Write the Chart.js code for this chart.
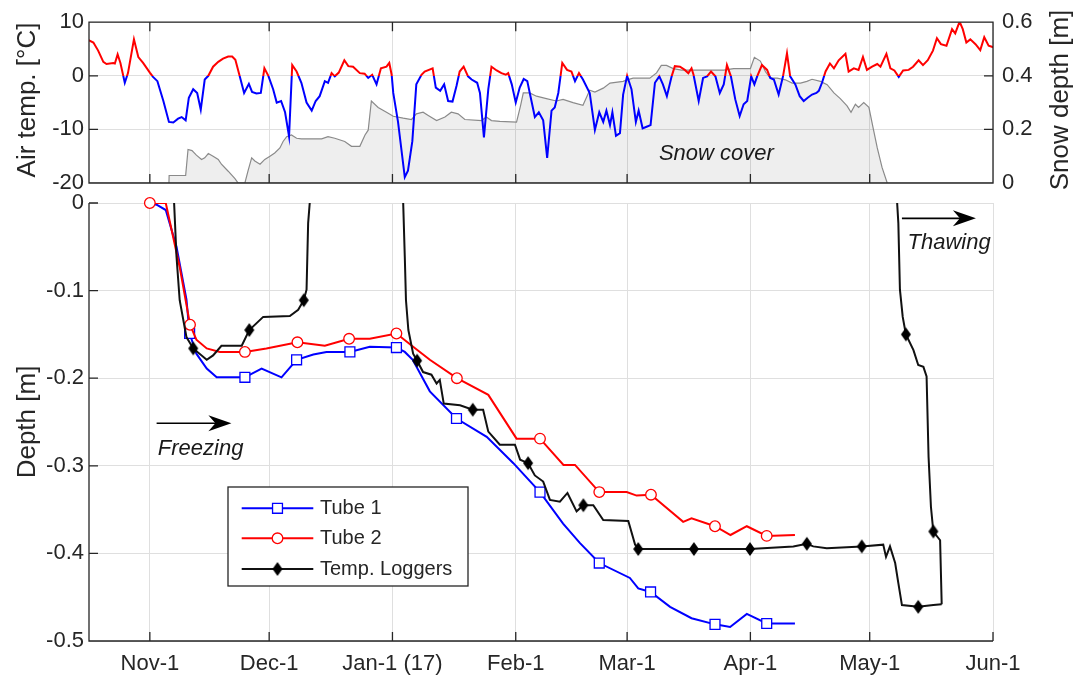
<!DOCTYPE html>
<html>
<head>
<meta charset="utf-8">
<title>Freezing and thawing of the ground, winter 2016/17</title>
<script src="https://cdn.jsdelivr.net/npm/chart.js@4.4.1/dist/chart.umd.min.js"></script>
<style>
  html, body { margin: 0; padding: 0; background: #fff; }
  #wrap { position: relative; width: 1083px; height: 681px; overflow: hidden; }
  #wrap canvas { position: absolute; left: 0; top: 0; }
</style>
</head>
<body>
<div id="wrap">
  <canvas id="depthPanel" width="1083" height="681"></canvas>
  <canvas id="weatherPanel" width="1083" height="681"></canvas>
</div>
<script>
// ---------- time axis (days counted from 1 Nov 2016) ----------
const monthTickDays   = [0, 30, 61, 92, 120, 151, 181, 212];
const monthTickLabels = ['Nov-1', 'Dec-1', 'Jan-1 (17)', 'Feb-1', 'Mar-1', 'Apr-1', 'May-1', 'Jun-1'];
const dayMin = -15.3;
const dayMax = 212;

const tempTicks  = [-20, -10, 0, 10];
const snowTicks  = [0, 0.2, 0.4, 0.6];
const depthTicks = [-0.5, -0.4, -0.3, -0.2, -0.1, 0];

// ---------- air temperature [°C] ----------
const airTempDays = [
  -15.5, -14.2, -13.0, -11.7, -10.9, -9.2, -8.8, -8.1, -7.4, -6.3, -5.5, -4.0, -2.9, -1.7, 0.0, 0.8, 1.9,
  3.4, 4.8, 5.9, 7.1, 8.0, 9.0, 9.8, 10.9, 11.9, 12.8, 13.8, 14.7, 15.9, 17.2, 18.4, 19.7, 20.7, 21.5,
  22.6, 23.7, 24.9, 25.7, 26.8, 27.9, 28.8, 29.8, 31.0, 31.9, 33.0, 34.0, 35.0, 35.8, 36.9, 38.1, 39.4,
  40.7, 41.7, 42.7, 44.0, 44.8, 45.7, 46.5, 47.5, 48.9, 49.9, 51.1, 52.8, 54.0, 54.9, 55.9, 57.0, 58.1,
  59.5, 60.2, 60.8, 61.2, 62.4, 64.1, 64.9, 66.0, 67.0, 68.3, 69.1, 71.1, 71.9, 73.0, 74.0, 75.0, 76.1,
  77.1, 77.9, 78.9, 80.0, 80.9, 82.3, 83.0, 84.0, 85.1, 85.9, 87.2, 88.4, 89.5, 90.1, 91.0, 92.0, 93.0,
  94.0, 94.9, 95.7, 96.8, 97.8, 98.9, 99.9, 101.0, 101.8, 102.7, 103.7, 104.9, 106.0, 106.9, 107.9,
  108.9, 110.6, 111.9, 113.0, 114.0, 114.8, 115.7, 116.3, 117.2, 118.2, 119.0, 120.0, 121.1, 122.2,
  122.9, 123.9, 124.9, 125.9, 127.0, 128.1, 129.0, 130.0, 131.2, 132.0, 133.3, 134.5, 135.4, 136.2,
  136.7, 138.0, 139.1, 140.1, 141.1, 142.2, 143.3, 144.3, 145.1, 146.1, 147.2, 148.3, 149.3, 150.2,
  151.2, 152.0, 152.7, 153.9, 155.2, 156.0, 156.9, 158.1, 159.2, 160.2, 161.0, 162.3, 163.4, 164.4,
  165.4, 166.5, 167.6, 168.2, 169.0, 169.9, 171.0, 172.0, 173.2, 174.9, 175.7, 177.0, 178.2, 179.3,
  180.3, 181.6, 182.9, 183.7, 185.2, 186.2, 187.2, 188.3, 189.4, 190.8, 191.9, 193.3, 194.4, 195.6,
  196.9, 197.9, 198.9, 200.3, 201.7, 202.5, 203.6, 204.4, 205.3, 206.3, 207.6, 208.8, 209.8, 210.9, 212.2
];
const airTempValues = [
  6.7, 6.2, 4.7, 2.6, 2.2, 2.4, 2.3, 4.0, 2.4, -1.3, 0.5, 6.8, 3.5, 2.4, 0.6, -0.2, -1.0,
  -4.7, -8.6, -8.7, -8.0, -7.7, -8.3, -4.1, -2.5, -3.2, -6.3, -0.7, 0.0, 1.7, 2.6, 3.2, 3.6, 3.6, 3.0,
  -0.1, -3.2, -1.5, -3.0, -3.3, -3.2, 1.4, 0.0, -2.5, -5.0, -4.7, -6.8, -11.3, 2.0, 0.8, -1.3, -5.0,
  -6.5, -4.7, -3.8, -1.0, -1.3, 0.5, -0.1, 0.6, 2.9, 1.8, 1.7, 0.5, 0.4, -0.4, 0.2, -1.6, 1.4,
  1.7, 2.4, 0.2, -3.2, -8.6, -18.9, -17.7, -12.2, -1.6, 0.2, 0.8, 1.4, -2.2, -2.8, -1.6, -4.7, -4.8,
  -1.9, 0.8, 1.7, -0.1, -0.7, -1.3, -3.2, -11.5, -2.5, 1.7, 1.0, 0.5, 0.2, 0.5, -1.6, -5.0, -2.2,
  -0.6, -1.0, -3.8, -7.7, -6.8, -8.3, -15.3, -6.5, -5.9, -3.2, 2.4, 1.1, 0.8, -1.0, 0.5,
  -0.7, -3.2, -10.1, -6.8, -8.6, -6.5, -9.2, -6.8, -11.2, -10.7, -3.5, 0.0, -2.5, -8.6,
  -6.5, -9.8, -9.5, -9.2, -1.3, -0.1, -1.6, -3.8, -0.1, 1.8, 1.7, 1.1, 0.5, 1.4,
  0.2, -4.7, -0.4, -0.1, 0.8, -0.1, -3.2, -1.6, 2.0, -0.1, -4.4, -7.5, -5.3, -4.7,
  -0.1, -1.6, -0.1, 2.0, 1.1, -0.4, -0.7, -3.5, -0.1, 4.2, -0.1, -1.6, -3.8, -4.7,
  -4.1, -3.5, -3.2, -2.8, -1.3, 0.8, 2.3, 1.4, 2.9, 4.1, 0.8, 1.4, 1.1, 3.5,
  1.1, 1.7, 2.2, 1.7, 4.1, 1.4, 1.0, -0.2, 1.0, 1.1, 1.7, 2.9, 2.0, 2.9,
  4.7, 7.0, 5.9, 5.6, 8.7, 7.9, 10.1, 8.7, 6.2, 6.8, 5.9, 4.8, 7.2, 5.6, 5.3
];

// ---------- snow depth [m] ----------
const snowDays = [
  4.8, 4.85, 9.0, 9.6, 10.6, 11.7, 13.0, 13.8, 14.7, 15.9, 17.2, 18.0, 19.7, 21.4, 22.2, 23.9, 24.7,
  25.6, 26.4, 27.7, 28.9, 30.2, 31.4, 32.7, 33.5, 34.4, 35.6, 36.9, 38.1, 43.2, 44.8, 46.5, 49.0, 50.7,
  52.8, 54.1, 54.9, 55.7, 57.4, 59.5, 61.2, 63.7, 65.8, 67.0, 68.7, 70.0, 72.1, 74.2, 75.8, 77.5, 79.2,
  83.4, 84.6, 85.9, 88.0, 92.2, 93.2, 93.9, 95.5, 97.2, 99.7, 102.2, 103.9, 106.4, 108.9, 110.6, 111.9,
  114.0, 115.7, 119.0, 120.0, 121.5, 125.7, 127.4, 128.6, 129.9, 131.6, 133.7, 144.3, 146.8, 151.0,
  152.0, 153.5, 154.8, 156.0, 157.7, 159.8, 161.5, 163.6, 165.2, 166.5, 168.6, 170.3, 172.0, 173.6,
  175.3, 176.3, 177.4, 178.2, 179.5, 180.8, 181.8, 182.9, 184.1, 185.4
];
const snowDepth = [
  0, 0.028, 0.028, 0.125, 0.121, 0.104, 0.088, 0.094, 0.110, 0.100, 0.088, 0.070, 0.044, 0.016, 0, 0, 0.046,
  0.094, 0.082, 0.070, 0.088, 0.100, 0.112, 0.131, 0.155, 0.173, 0.179, 0.167, 0.165, 0.165, 0.173, 0.167, 0.155, 0.137,
  0.137, 0.179, 0.197, 0.306, 0.282, 0.264, 0.249, 0.242, 0.237, 0.258, 0.264, 0.252, 0.233, 0.246, 0.264, 0.258, 0.237,
  0.233, 0.246, 0.233, 0.230, 0.227, 0.288, 0.336, 0.336, 0.324, 0.315, 0.306, 0.312, 0.300, 0.290, 0.346, 0.339,
  0.354, 0.373, 0.379, 0.385, 0.391, 0.391, 0.411, 0.439, 0.439, 0.427, 0.421, 0.421, 0.427, 0.427,
  0.469, 0.455, 0.415, 0.391, 0.391, 0.385, 0.373, 0.373, 0.379, 0.387, 0.379, 0.367, 0.336, 0.315,
  0.288, 0.264, 0.294, 0.282, 0.300, 0.282, 0.209, 0.131, 0.058, 0
];

// ---------- frozen depth, access tube 1 [m] ----------
const tube1Days = [
  0, 1.7, 4.0, 6.7, 9.2, 10.0, 11.7, 14.3, 16.8, 23.9, 28.1, 33.1, 36.9, 41.1, 44.4, 50.3, 55.3, 62.0, 64.1,
  66.1, 70.4, 77.1, 84.7, 91.4, 98.1, 103.9, 108.1, 113.0, 120.7, 122.8, 125.9, 130.8, 136.2, 142.1, 145.9,
  150.1, 155.1, 162.2
];
const tube1Depth = [
  0, -0.002, -0.008, -0.050, -0.110, -0.149, -0.172, -0.189, -0.199, -0.199, -0.189, -0.199, -0.179, -0.173,
  -0.170, -0.170, -0.164, -0.165, -0.170, -0.179, -0.215, -0.246, -0.267, -0.297, -0.330, -0.366, -0.388,
  -0.411, -0.428, -0.440, -0.444, -0.461, -0.474, -0.481, -0.484, -0.469, -0.480, -0.480
];
const tube1ReadDays  = [10.0, 23.9, 36.9, 50.3, 62.0, 77.1, 98.1, 113.0, 125.9, 142.1, 155.1];
const tube1ReadDepth = [-0.149, -0.199, -0.179, -0.170, -0.165, -0.246, -0.330, -0.411, -0.444, -0.481, -0.480];

// ---------- frozen depth, access tube 2 [m] ----------
const tube2Days = [
  0, 4.0, 7.5, 10.1, 11.7, 14.3, 17.6, 23.9, 29.3, 37.1, 44.0, 50.1, 55.3, 62.0, 66.2, 70.4, 77.2, 85.1,
  92.2, 98.1, 104.0, 106.9, 113.0, 119.9, 122.4, 126.0, 134.1, 136.2, 142.1, 146.0, 150.1, 155.1, 162.2
];
const tube2Depth = [
  0, 0, -0.073, -0.139, -0.156, -0.166, -0.170, -0.170, -0.166, -0.159, -0.163, -0.155, -0.155, -0.149,
  -0.164, -0.179, -0.200, -0.219, -0.269, -0.269, -0.299, -0.299, -0.330, -0.330, -0.334, -0.333, -0.364,
  -0.360, -0.369, -0.379, -0.369, -0.380, -0.379
];
const tube2ReadDays  = [0, 10.1, 23.9, 37.1, 50.1, 62.0, 77.2, 98.1, 113.0, 126.0, 142.1, 155.1];
const tube2ReadDepth = [0, -0.139, -0.170, -0.159, -0.155, -0.149, -0.200, -0.269, -0.330, -0.333, -0.369, -0.380];

// ---------- 0 °C isotherm from the temperature loggers [m] ----------
// early-winter freeze and December thaw
const loggerNovDays  = [5.9, 6.1, 6.7, 7.5, 9.2, 10.9, 14.3, 15.9, 18.0, 23.1, 25.0, 28.5, 35.2, 37.3, 38.7, 39.4, 39.8, 40.2, 40.3];
const loggerNovDepth = [0.03, 0, -0.061, -0.111, -0.153, -0.166, -0.179, -0.174, -0.163, -0.163, -0.145, -0.130, -0.129, -0.122, -0.111, -0.099, -0.023, 0, 0.03];
// main freezing season, lower frost boundary
const loggerJanDays = [
  63.6, 63.7, 64.1, 64.4, 65.0, 66.2, 67.2, 68.7, 70.8, 72.1, 72.9, 73.9, 78.0, 81.2, 83.8, 85.1, 88.0, 91.8,
  93.1, 95.1, 96.8, 98.9, 100.6, 103.1, 105.0, 107.3, 109.0, 111.5, 114.0, 120.3, 122.0, 122.8, 127.4, 136.8,
  150.9, 161.8, 165.2, 166.8, 170.2, 179.0, 184.4, 185.1, 186.1, 187.4, 188.2, 189.1, 193.2, 197.0, 199.1
];
const loggerJanDepth = [
  0.03, 0, -0.061, -0.111, -0.145, -0.172, -0.180, -0.193, -0.196, -0.206, -0.202, -0.229, -0.231, -0.236,
  -0.236, -0.261, -0.276, -0.276, -0.293, -0.297, -0.311, -0.318, -0.339, -0.341, -0.331, -0.352, -0.345,
  -0.345, -0.362, -0.363, -0.390, -0.395, -0.395, -0.395, -0.395, -0.392, -0.389, -0.392, -0.394, -0.392,
  -0.390, -0.404, -0.392, -0.411, -0.434, -0.459, -0.461, -0.459, -0.458
];
// spring thaw front descending from the surface
const loggerThawDays  = [187.8, 187.9, 188.2, 188.6, 189.3, 190.1, 192.0, 193.2, 194.5, 195.3, 195.8, 196.4, 197.0, 198.7, 199.1];
const loggerThawDepth = [0.03, 0, -0.023, -0.099, -0.130, -0.150, -0.168, -0.185, -0.187, -0.198, -0.290, -0.347, -0.375, -0.385, -0.458];
const loggerReadDays  = [10.9, 25.0, 38.7, 67.2, 81.2, 95.1, 109.0, 122.8, 136.8, 150.9, 165.2, 179.0, 190.1, 193.2, 197.0];
const loggerReadDepth = [-0.166, -0.145, -0.111, -0.180, -0.236, -0.297, -0.345, -0.395, -0.395, -0.395, -0.389, -0.392, -0.150, -0.461, -0.375];

// ---------- styling ----------
const FONT = "'Liberation Sans', Arial, Helvetica, sans-serif";
const INK = '#262626';
const GRID = '#dfdfdf';
const BLUE = '#0000ff';
const RED = '#ff0000';
const TICK_FONT = { family: FONT, size: 22 };

Chart.defaults.font.family = FONT;
Chart.defaults.color = INK;

const pts = (xs, ys) => xs.map((x, i) => ({ x, y: ys[i] }));
const setTicks = values => scale => { scale.ticks = values.map(v => ({ value: v })); };
const fmt1 = v => (v === 0 ? '0' : v.toFixed(1));

// tall filled diamond used for logger readings
function diamondMarker(w, h) {
  const c = document.createElement('canvas');
  c.width = w + 2; c.height = h + 2;
  const g = c.getContext('2d');
  g.beginPath();
  g.moveTo(c.width / 2, 1);
  g.lineTo(c.width - 1, c.height / 2);
  g.lineTo(c.width / 2, c.height - 1);
  g.lineTo(1, c.height / 2);
  g.closePath();
  g.fillStyle = '#000';
  g.fill();
  return c;
}
const DIAMOND = diamondMarker(10, 14);

// red above 0 °C, blue below
function tempColour(context) {
  const chart = context.chart;
  const area = chart.chartArea;
  if (!area) return RED;
  const zero = chart.scales.yTemp.getPixelForValue(0);
  const f = Math.min(1, Math.max(0, (zero - area.top) / (area.bottom - area.top)));
  const g = chart.ctx.createLinearGradient(0, area.top, 0, area.bottom);
  g.addColorStop(0, RED); g.addColorStop(f, RED);
  g.addColorStop(f, BLUE); g.addColorStop(1, BLUE);
  return g;
}

// axis lines and inward tick marks
const frame = {
  id: 'frame',
  afterDatasetsDraw(chart, _args, o) {
    const { ctx, chartArea: a, scales } = chart;
    const L = 9;
    ctx.save();
    ctx.strokeStyle = INK;
    ctx.lineWidth = 1.3;
    ctx.beginPath();
    if (o.box) {
      ctx.rect(a.left, a.top, a.right - a.left, a.bottom - a.top);
    } else {
      ctx.moveTo(a.left, a.top); ctx.lineTo(a.left, a.bottom); ctx.lineTo(a.right, a.bottom);
    }
    scales.x.ticks.forEach(t => {
      const px = scales.x.getPixelForValue(t.value);
      ctx.moveTo(px, a.bottom); ctx.lineTo(px, a.bottom - L);
      if (o.box) { ctx.moveTo(px, a.top); ctx.lineTo(px, a.top + L); }
    });
    const yl = scales[o.left];
    yl.ticks.forEach(t => {
      const py = yl.getPixelForValue(t.value);
      ctx.moveTo(a.left, py); ctx.lineTo(a.left + L, py);
    });
    if (o.right) {
      const yr = scales[o.right];
      yr.ticks.forEach(t => {
        const py = yr.getPixelForValue(t.value);
        ctx.moveTo(a.right, py); ctx.lineTo(a.right - L, py);
      });
    }
    ctx.stroke();
    ctx.restore();
  }
};

// rotated axis titles
const axisTitles = {
  id: 'axisTitles',
  afterDraw(chart, _args, o) {
    const ctx = chart.ctx;
    o.items.forEach(t => {
      ctx.save();
      ctx.translate(t.x, t.y);
      ctx.rotate(-Math.PI / 2);
      ctx.font = `26px ${FONT}`;
      ctx.fillStyle = INK;
      ctx.textAlign = 'center';
      ctx.textBaseline = 'alphabetic';
      ctx.fillText(t.text, 0, 0);
      ctx.restore();
    });
  }
};

function drawArrow(ctx, x0, x1, y) {
  ctx.save();
  ctx.strokeStyle = '#000';
  ctx.fillStyle = '#000';
  ctx.lineWidth = 1.6;
  ctx.beginPath(); ctx.moveTo(x0, y); ctx.lineTo(x1 - 12, y); ctx.stroke();
  ctx.beginPath();
  ctx.moveTo(x1, y); ctx.lineTo(x1 - 23, y - 8); ctx.lineTo(x1 - 16, y); ctx.lineTo(x1 - 23, y + 8);
  ctx.closePath(); ctx.fill();
  ctx.restore();
}

// italic notes and arrows, placed in data coordinates
const notes = {
  id: 'notes',
  afterDatasetsDraw(chart, _args, o) {
    const { ctx, scales } = chart;
    const ys = scales[o.yAxis];
    (o.arrows || []).forEach(ar => {
      drawArrow(ctx, scales.x.getPixelForValue(ar.from), scales.x.getPixelForValue(ar.to), ys.getPixelForValue(ar.at));
    });
    (o.texts || []).forEach(t => {
      ctx.save();
      ctx.font = `italic 22px ${FONT}`;
      ctx.fillStyle = '#1a1a1a';
      ctx.textAlign = 'left';
      ctx.textBaseline = 'middle';
      ctx.fillText(t.text, scales.x.getPixelForValue(t.day), ys.getPixelForValue(t.value));
      ctx.restore();
    });
  }
};

// boxed legend with line + marker samples
const depthLegend = {
  id: 'depthLegend',
  afterDatasetsDraw(chart, _args, o) {
    const ctx = chart.ctx;
    const b = o.box;
    ctx.save();
    ctx.fillStyle = '#fff';
    ctx.fillRect(b.left, b.top, b.width, b.height);
    ctx.strokeStyle = INK;
    ctx.lineWidth = 1.3;
    ctx.strokeRect(b.left, b.top, b.width, b.height);
    o.entries.forEach((e, i) => {
      const y = b.top + o.rows[i];
      ctx.strokeStyle = e.color;
      ctx.lineWidth = 2;
      ctx.beginPath();
      ctx.moveTo(b.left + o.lineFrom, y); ctx.lineTo(b.left + o.lineTo, y);
      ctx.stroke();
      ctx.fillStyle = e.fill;
      ctx.strokeStyle = e.color;
      ctx.lineWidth = 1.3;
      Chart.helpers.drawPoint(ctx, { pointStyle: e.style, radius: e.radius, rotation: 0, borderWidth: 1.3 },
        b.left + (o.lineFrom + o.lineTo) / 2, y);
      ctx.fillStyle = INK;
      ctx.font = `20px ${FONT}`;
      ctx.textAlign = 'left';
      ctx.textBaseline = 'middle';
      ctx.fillText(e.label, b.left + o.textAt, y);
    });
    ctx.restore();
  }
};

// ---------- upper panel: air temperature and snow depth ----------
new Chart(document.getElementById('weatherPanel'), {
  type: 'line',
  data: {
    datasets: [
      {
        label: 'Snow depth',
        data: pts(snowDays, snowDepth),
        yAxisID: 'ySnow',
        borderColor: '#8a8a8a',
        borderWidth: 1.2,
        backgroundColor: 'rgba(0,0,0,0.065)',
        fill: 'origin',
        pointRadius: 0,
        order: 2
      },
      {
        label: 'Air temperature',
        data: pts(airTempDays, airTempValues),
        yAxisID: 'yTemp',
        borderColor: tempColour,
        borderWidth: 2,
        fill: false,
        pointRadius: 0,
        order: 1
      }
    ]
  },
  options: {
    responsive: false,
    animation: false,
    events: [],
    layout: { padding: { top: 17, bottom: 498, left: 0, right: 0 } },
    plugins: {
      legend: { display: false },
      tooltip: { enabled: false },
      frame: { box: true, left: 'yTemp', right: 'ySnow' },
      axisTitles: { items: [
        { text: 'Air temp. [°C]', x: 35, y: 100 },
        { text: 'Snow depth [m]', x: 1068, y: 100 }
      ] },
      notes: { yAxis: 'yTemp', texts: [{ text: 'Snow cover', day: 128.0, value: -14.5 }] }
    },
    scales: {
      x: {
        type: 'linear', min: dayMin, max: dayMax,
        afterBuildTicks: setTicks(monthTickDays),
        afterFit: s => { s.height = 0; },
        ticks: { display: false },
        grid: { color: GRID, lineWidth: 1, drawTicks: false },
        border: { display: false }
      },
      yTemp: {
        type: 'linear', position: 'left', min: -20, max: 10,
        afterBuildTicks: setTicks(tempTicks),
        afterFit: s => { s.width = 89; },
        ticks: { font: TICK_FONT, color: INK, padding: 5, callback: v => String(v) },
        grid: { color: GRID, lineWidth: 1, drawTicks: false },
        border: { display: false }
      },
      ySnow: {
        type: 'linear', position: 'right', min: 0, max: 0.6,
        afterBuildTicks: setTicks(snowTicks),
        afterFit: s => { s.width = 90; },
        ticks: { font: TICK_FONT, color: INK, padding: 9, callback: fmt1 },
        grid: { display: false, drawTicks: false },
        border: { display: false }
      }
    }
  },
  plugins: [frame, notes, axisTitles]
});

// ---------- lower panel: frost depth ----------
const lineSet = (label, xs, ys, color, order) => ({
  label, data: pts(xs, ys), borderColor: color, borderWidth: 2, pointRadius: 0, fill: false, order
});
const markSet = (label, xs, ys, style, radius, color, fill, order) => ({
  label, data: pts(xs, ys), showLine: false, pointStyle: style, pointRadius: radius,
  pointBorderColor: color, pointBackgroundColor: fill, pointBorderWidth: 1.3, clip: false, order
});

new Chart(document.getElementById('depthPanel'), {
  type: 'line',
  data: {
    datasets: [
      lineSet('Tube 1', tube1Days, tube1Depth, BLUE, 9),
      markSet('Tube 1 readings', tube1ReadDays, tube1ReadDepth, 'rect', 7, BLUE, '#fff', 8),
      lineSet('Tube 2', tube2Days, tube2Depth, RED, 7),
      markSet('Tube 2 readings', tube2ReadDays, tube2ReadDepth, 'circle', 5.3, RED, '#fff', 6),
      lineSet('Temp. Loggers', loggerNovDays, loggerNovDepth, '#111', 5),
      lineSet('Temp. Loggers (winter)', loggerJanDays, loggerJanDepth, '#111', 4),
      lineSet('Temp. Loggers (thaw)', loggerThawDays, loggerThawDepth, '#111', 3),
      markSet('Logger readings', loggerReadDays, loggerReadDepth, DIAMOND, 7, '#000', '#000', 2)
    ]
  },
  options: {
    responsive: false,
    animation: false,
    events: [],
    layout: { padding: { top: 203, bottom: 0, left: 0, right: 90 } },
    plugins: {
      legend: { display: false },
      tooltip: { enabled: false },
      frame: { box: false, left: 'y' },
      axisTitles: { items: [{ text: 'Depth [m]', x: 35, y: 422 }] },
      notes: {
        yAxis: 'y',
        arrows: [
          { from: 1.7, to: 20.5, at: -0.2515 },
          { from: 189.1, to: 207.7, at: -0.0175 }
        ],
        texts: [
          { text: 'Freezing', day: 2.0, value: -0.281 },
          { text: 'Thawing', day: 190.5, value: -0.046 }
        ]
      },
      depthLegend: {
        box: { left: 228, top: 487, width: 240, height: 99 },
        rows: [21.3, 51.3, 82.0],
        lineFrom: 13.7, lineTo: 85.3, textAt: 92,
        entries: [
          { label: 'Tube 1', color: BLUE, fill: '#fff', style: 'rect', radius: 7 },
          { label: 'Tube 2', color: RED, fill: '#fff', style: 'circle', radius: 5.3 },
          { label: 'Temp. Loggers', color: '#111', fill: '#000', style: DIAMOND, radius: 7 }
        ]
      }
    },
    scales: {
      x: {
        type: 'linear', min: dayMin, max: dayMax,
        afterBuildTicks: setTicks(monthTickDays),
        afterFit: s => { s.height = 40; },
        ticks: {
          font: TICK_FONT, color: INK, padding: 10, autoSkip: false, maxRotation: 0, minRotation: 0,
          callback: (v, i) => monthTickLabels[i]
        },
        grid: { color: GRID, lineWidth: 1, drawTicks: false },
        border: { display: false }
      },
      y: {
        type: 'linear', position: 'left', min: -0.5, max: 0,
        afterBuildTicks: setTicks(depthTicks),
        afterFit: s => { s.width = 89; },
        ticks: { font: TICK_FONT, color: INK, padding: 5, callback: fmt1 },
        grid: { color: GRID, lineWidth: 1, drawTicks: false },
        border: { display: false }
      }
    }
  },
  plugins: [frame, notes, depthLegend, axisTitles]
});
</script>
</body>
</html>
